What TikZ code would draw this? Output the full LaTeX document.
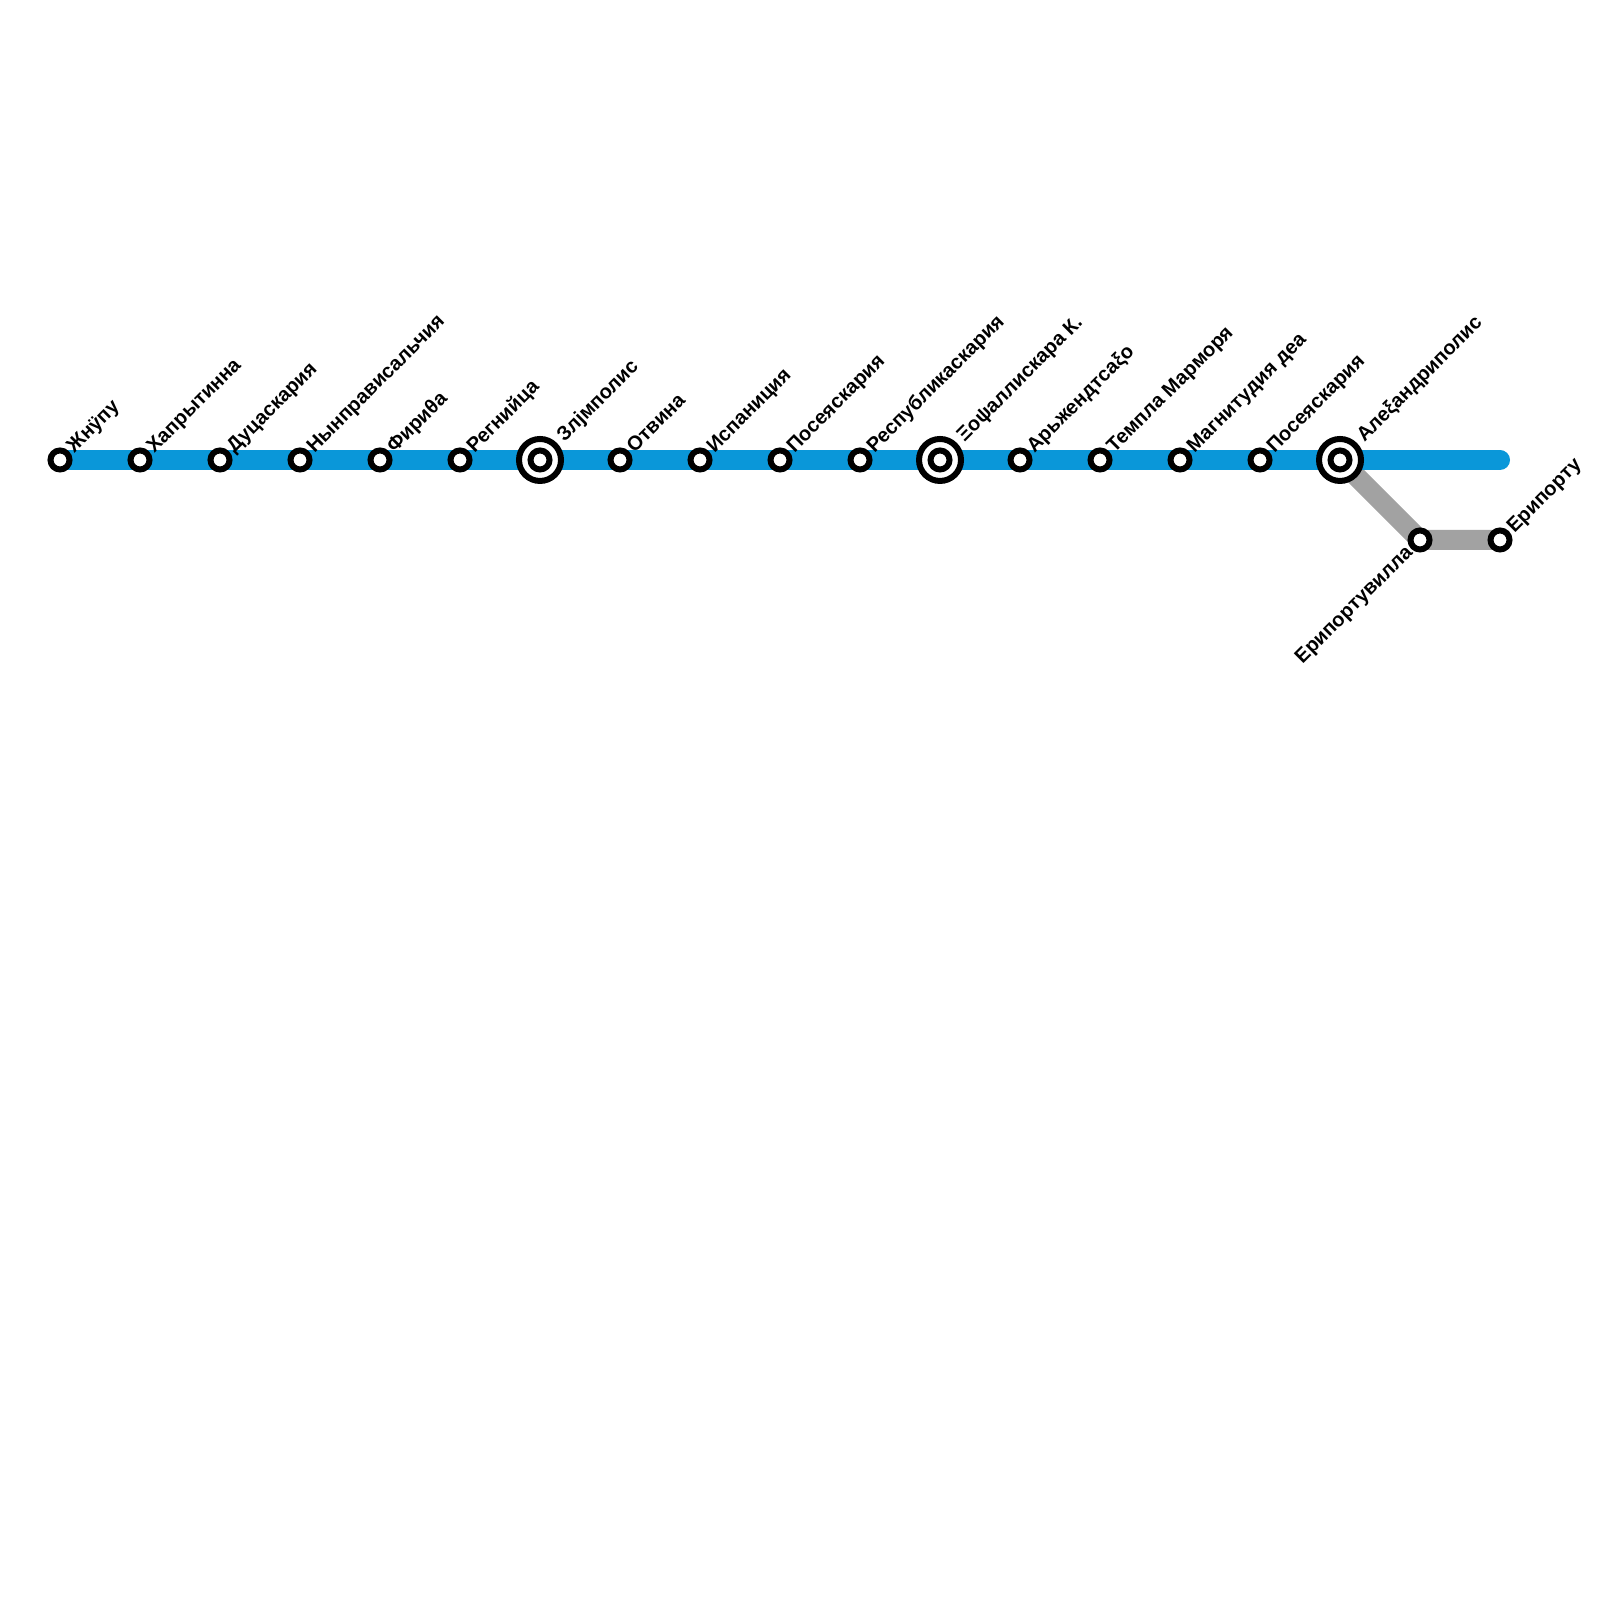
\documentclass[tikz,border=0pt]{standalone}
\usepackage{fontspec}
\setmainfont{Liberation Sans}
\usetikzlibrary{backgrounds}
\definecolor{mainline}{HTML}{0A97D9}
\definecolor{branchline}{HTML}{A2A2A2}

\begin{document}
\begin{tikzpicture}[
    stop/.style={circle, draw=black, fill=white, line width=0.06cm, minimum size=0.19cm, inner sep=0pt, outer sep=0pt},
    hub/.style={circle, draw=black, fill=white, line width=0.06cm, minimum size=0.42cm, inner sep=0pt, outer sep=0pt},
    stoplabel/.style={rotate=45, anchor=base west, inner sep=0pt, font=\fontsize{5.7}{6}\selectfont\bfseries},
    routeline/.style={line width=0.2cm, line cap=round, line join=round}
]
\useasboundingbox (0, 0) rectangle (16, 16);

% Main line stops
\node[stop] (zhnupu) at (0.6, 11.4) {};
\node[stop] (haprytinna) at (1.4, 11.4) {};
\node[stop] (ducaskaria) at (2.2, 11.4) {};
\node[stop] (nynpravi) at (3.0, 11.4) {};
\node[stop] (firitha) at (3.8, 11.4) {};
\node[stop] (regniyca) at (4.6, 11.4) {};
\node[hub] (zljmpolisout) at (5.4, 11.4) {};
\node[stop] (zljmpolis) at (5.4, 11.4) {};
\node[stop] (otvina) at (6.2, 11.4) {};
\node[stop] (ispanicia) at (7.0, 11.4) {};
\node[stop] (poseyaone) at (7.8, 11.4) {};
\node[stop] (respublika) at (8.6, 11.4) {};
\node[hub] (xopsallisout) at (9.4, 11.4) {};
\node[stop] (xopsallis) at (9.4, 11.4) {};
\node[stop] (arzhend) at (10.2, 11.4) {};
\node[stop] (templa) at (11.0, 11.4) {};
\node[stop] (magnitudia) at (11.8, 11.4) {};
\node[stop] (poseyatwo) at (12.6, 11.4) {};
\node[hub] (alexandriout) at (13.4, 11.4) {};
\node[stop] (alexandri) at (13.4, 11.4) {};
\coordinate (mainend) at (15.0, 11.4);

% Branch stops
\node[stop] (eriportuvilla) at (14.2, 10.6) {};
\node[stop] (eriportu) at (15.0, 10.6) {};

% Lines
\begin{scope}[on background layer]
\draw[routeline, branchline] (alexandri.center) -- (eriportuvilla.center) -- (eriportu.center);
\draw[routeline, mainline] (zhnupu.center) -- (mainend);
\end{scope}

% Labels
\node[stoplabel] (zhnupulabel) at (0.74, 11.46) {Жнӱпу};
\node[stoplabel] (haprytinnalabel) at (1.54, 11.46) {Хапрытинна};
\node[stoplabel] (ducaskarialabel) at (2.34, 11.46) {Дуцаскария};
\node[stoplabel] (nynpravilabel) at (3.14, 11.46) {Нынправисальчия};
\node[stoplabel] (firithalabel) at (3.94, 11.46) {Фириθа};
\node[stoplabel] (regniycalabel) at (4.74, 11.46) {Регнийца};
\node[stoplabel] (zljmpolislabel) at (5.64, 11.57) {Злјмполис};
\node[stoplabel] (otvinalabel) at (6.34, 11.46) {Отвина};
\node[stoplabel] (ispanicialabel) at (7.14, 11.46) {Испаниция};
\node[stoplabel] (poseyaonelabel) at (7.94, 11.46) {Посеяскария};
\node[stoplabel] (respublikalabel) at (8.74, 11.46) {Республикаскария};
\node[stoplabel] (xopsallislabel) at (9.64, 11.57) {Ξоψаллискара К.};
\node[stoplabel] (arzhendlabel) at (10.34, 11.46) {Арьжендтсаξо};
\node[stoplabel] (templalabel) at (11.14, 11.46) {Темпла Марморя};
\node[stoplabel] (magnitudialabel) at (11.94, 11.46) {Магнитудия деа};
\node[stoplabel] (poseyatwolabel) at (12.74, 11.46) {Посеяскария};
\node[stoplabel] (alexandrilabel) at (13.64, 11.57) {Алеξандриполис};
\node[stoplabel] (eriportulabel) at (15.14, 10.66) {Ерипорту};
\node[stoplabel, anchor=base east] (eriportuvillalabel) at (14.14, 10.47) {Ерипортувилла};

\end{tikzpicture}
\end{document}
